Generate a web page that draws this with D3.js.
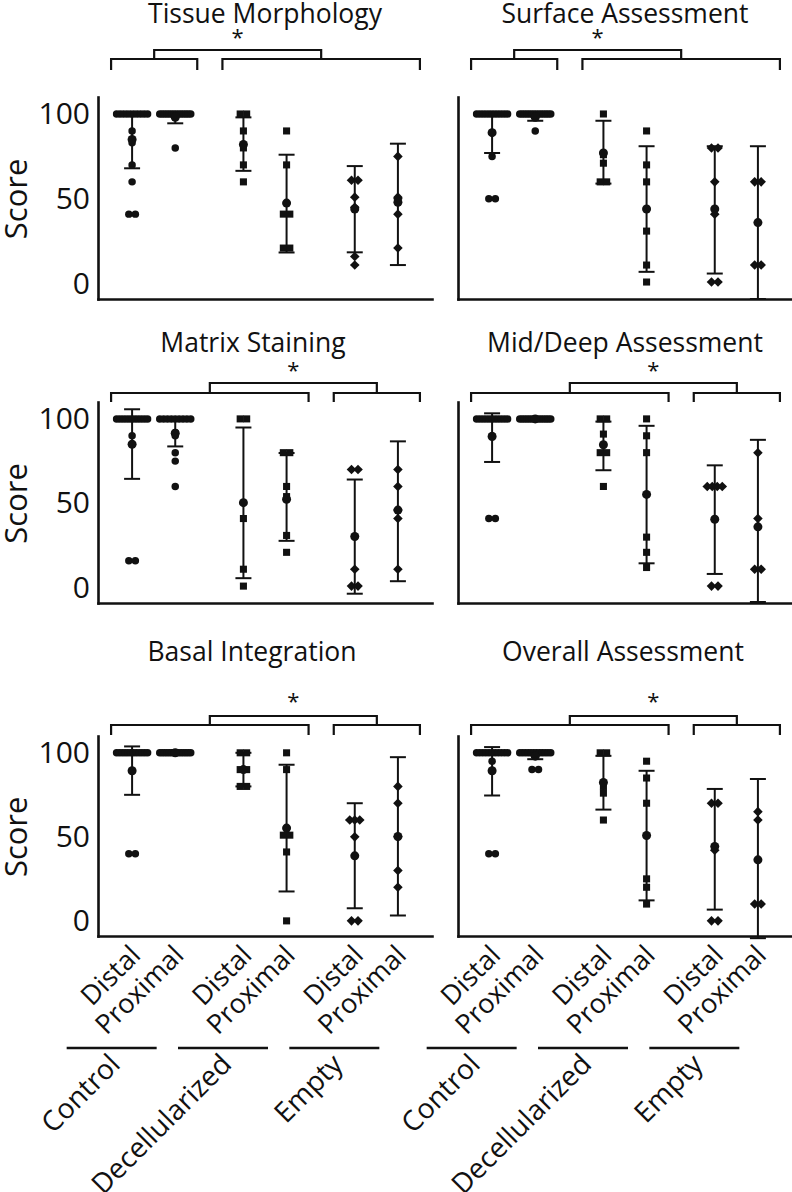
<!DOCTYPE html>
<html lang="en">
<head>
<meta charset="UTF-8">
<title>Histology scores</title>
<style>
  body { margin: 0; background: #fff; }
  svg { display: block; font-family: "Open Sans", sans-serif; }
</style>
</head>
<body>
<div id="chart"></div>
<script src="https://cdn.jsdelivr.net/npm/d3@7"></script>
<script>
const groups = ["Control", "Decellularized", "Empty"];
const sites = ["Distal", "Proximal"];
const yTicks = [0, 50, 100];
const titles = ["Tissue Morphology", "Surface Assessment", "Matrix Staining",
    "Mid/Deep Assessment", "Basal Integration", "Overall Assessment"];

// columns: Control D, Control P, Decell D, Decell P, Empty D, Empty P
const tissuePts = [
    [100, 100, 100, 100, 100, 100, 100, 100, 100, 100, 90, 83, 70, 60, 41, 41],
    [100, 100, 100, 100, 100, 100, 100, 100, 100, 100, 100, 100, 100, 100, 80],
    [100, 100, 90, 80, 70, 60],
    [90, 70, 41, 41, 21, 21],
    [61, 61, 51, 45, 16, 11],
    [75, 51, 50, 41, 21]
];
const tissueMean = [85, 98, 82, 47.5, 44, 48];
const tissueLo = [68, 94.5, 66.5, 18.4, 18.5, 11];
const tissueHi = [101, 100.5, 98, 76, 69.3, 82.5];

const surfacePts = [
    [100, 100, 100, 100, 100, 100, 100, 100, 100, 100, 100, 89, 75, 50, 50],
    [100, 100, 100, 100, 100, 100, 100, 100, 100, 100, 100, 100, 100, 100, 90],
    [100, 76, 71, 60, 60],
    [90, 70, 60, 31, 11, 1],
    [80, 80, 60, 41, 1, 1],
    [60, 60, 11, 11]
];
const surfaceMean = [89, 98, 77, 44, 44, 36];
const surfaceLo = [77, 96, 59, 7, 6, -9];
const surfaceHi = [101, 100, 96, 81, 81, 81];

const matrixPts = [
    [100, 100, 100, 100, 100, 100, 100, 100, 100, 100, 100, 90, 85, 16, 16],
    [100, 100, 100, 100, 100, 100, 100, 100, 100, 92, 90, 80, 75, 60],
    [100, 100, 41, 11, 1],
    [80, 80, 60, 54, 31, 21],
    [70, 70, 11, 1, 1],
    [70, 60, 46, 41, 11]
];
const matrixMean = [85, 91.5, 50.4, 52.4, 30.4, 46];
const matrixLo = [64.5, 83.7, 5.7, 27.8, -3.5, 3.9];
const matrixHi = [105.7, 100, 94.9, 79.8, 64.1, 86.7];

const midDeepPts = [
    [100, 100, 100, 100, 100, 100, 100, 100, 100, 100, 100, 90, 41, 41],
    [100, 100, 100, 100, 100, 100, 100, 100, 100, 100, 100, 100, 100, 100],
    [100, 100, 91, 80, 80, 60],
    [100, 90, 80, 30, 21, 12],
    [60, 60, 60, 60, 1, 1],
    [80, 41, 11, 11]
];
const midDeepMean = [89.6, 100, 84.7, 55.3, 40.6, 36.1];
const midDeepLo = [74.5, 100, 69.6, 14.5, 8.2, -8.4];
const midDeepHi = [103.3, 100, 98.4, 95.9, 72.5, 87.6];

const basalPts = [
    [100, 100, 100, 100, 100, 100, 100, 100, 100, 100, 100, 100, 89, 40, 40],
    [100, 100, 100, 100, 100, 100, 100, 100, 100, 100, 100, 100, 100, 100],
    [100, 100, 90, 90, 80, 80],
    [100, 90, 51, 51, 41, 0],
    [60, 60, 60, 50, 0, 0],
    [80, 70, 50, 30, 20]
];
const basalMean = [89.3, 100, 90, 55.2, 38.7, 50.2];
const basalLo = [75, 100, 80, 17.5, 7.5, 3.2];
const basalHi = [103.8, 100, 100, 92.9, 70, 97.4];

const overallPts = [
    [100, 100, 100, 100, 100, 100, 100, 100, 100, 100, 100, 95, 89, 40, 40],
    [100, 100, 100, 100, 100, 100, 100, 100, 100, 100, 100, 100, 90, 90],
    [100, 100, 80, 76, 60],
    [95, 85, 70, 25, 20, 10],
    [70, 70, 42, 0, 0],
    [65, 60, 10, 10]
];
const overallMean = [89.3, 98, 82.4, 50.8, 44.3, 36.3];
const overallLo = [74.6, 96.2, 66.2, 12.2, 6.7, -10.3];
const overallHi = [103.4, 100, 98.2, 89.3, 78.5, 84.4];

// group index ranges joined by the significance brackets
const brackets = [
    [[0, 0], [1, 2]], [[0, 0], [1, 2]],
    [[0, 1], [2, 2]], [[0, 1], [2, 2]],
    [[0, 1], [2, 2]], [[0, 1], [2, 2]]
];

const panels = [
    {pts: tissuePts, mean: tissueMean, lo: tissueLo, hi: tissueHi},
    {pts: surfacePts, mean: surfaceMean, lo: surfaceLo, hi: surfaceHi},
    {pts: matrixPts, mean: matrixMean, lo: matrixLo, hi: matrixHi},
    {pts: midDeepPts, mean: midDeepMean, lo: midDeepLo, hi: midDeepHi},
    {pts: basalPts, mean: basalMean, lo: basalLo, hi: basalHi},
    {pts: overallPts, mean: overallMean, lo: overallLo, hi: overallHi}
];

// layout
const width = 792, height = 1192;
const colLeft = [98, 458];
const axisW = 334;
const rows = [
    {top: 97, bottom: 299, title: 23, star: 33, conn: 50, br: 59, brEnd: 70},
    {top: 402, bottom: 603, title: 352, star: 366, conn: 383, br: 393, brEnd: 402},
    {top: 736, bottom: 936, title: 661, star: 697, conn: 716, br: 725, brEnd: 735}
];
const titleShift = [0, 0, -12, 0, -13, -2];
const ink = "#111";

let svg = d3.select("#chart")
    .append("svg")
    .attr("width", width)
    .attr("height", height);

const x = d3.scaleBand().domain(groups).range([0, axisW]);
const xs = d3.scalePoint().domain(sites).range([0, x.bandwidth()]).padding(0.79);
const colX = k => x(groups[Math.floor(k / 2)]) + xs(sites[k % 2]);

const shapes = [d3.symbolCircle, d3.symbolSquare, d3.symbolSquare];
const shapeSize = [44, 50, 46];

// spread equal values sideways like a column scatter
function spread(values) {
    let out = [];
    d3.group(values, v => v).forEach((arr, v) => {
        let n = arr.length;
        let s = n === 2 ? 6.5 : n <= 4 ? 5 : Math.min(5, 31 / (n - 1));
        arr.forEach((_, i) => out.push({v: v, dx: (i - (n - 1) / 2) * s}));
    });
    return out;
}

panels.forEach((p, i) => {
    const col = i % 2, row = rows[Math.floor(i / 2)];
    const y = d3.scaleLinear().domain([-9, 110]).range([row.bottom, row.top]);

    let g = svg.append("g").attr("transform", `translate(${colLeft[col]},0)`);

    // title
    g.append("text")
        .attr("x", axisW / 2 + titleShift[i])
        .attr("y", row.title)
        .attr("text-anchor", "middle")
        .style("font-size", "26.5px")
        .style("fill", ink)
        .text(titles[i]);

    // axes
    let yAxis = g.append("g")
        .call(d3.axisLeft(y).tickValues(yTicks).tickSize(0).tickSizeOuter(0).tickPadding(8)
            .tickFormat(col === 0 ? d3.format("d") : () => ""));
    let xAxis = g.append("g")
        .attr("transform", `translate(0,${row.bottom})`)
        .call(d3.axisBottom(x).tickSize(0).tickSizeOuter(0).tickFormat(() => ""));
    [yAxis, xAxis].forEach(a => {
        a.attr("font-family", null).attr("font-size", null);
        a.select(".domain").attr("stroke", ink).attr("stroke-width", 2.6).attr("stroke-linecap", "square");
    });
    yAxis.selectAll(".tick text").style("font-size", "30px").attr("fill", ink);

    if (col === 0) {
        g.append("text")
            .attr("transform", `translate(-71,${y(50)}) rotate(-90)`)
            .attr("text-anchor", "middle")
            .style("font-size", "31px")
            .style("fill", ink)
            .text("Score");
    }

    // significance bracket
    const ends = brackets[i].map(([a, b]) => [colX(a * 2) - 21, colX(b * 2 + 1) + 22]);
    const mids = ends.map(e => (e[0] + e[1]) / 2);
    let bg = g.append("g").attr("fill", "none").attr("stroke", ink).attr("stroke-width", 2.2);
    ends.forEach(e => {
        bg.append("path").attr("d", `M${e[0]},${row.brEnd}V${row.br}H${e[1]}V${row.brEnd}`);
    });
    bg.append("path").attr("d", `M${mids[0]},${row.br}V${row.conn}H${mids[1]}V${row.br}`);
    g.append("text")
        .attr("x", (mids[0] + mids[1]) / 2)
        .attr("y", row.star + 12)
        .attr("text-anchor", "middle")
        .style("font-size", "22px")
        .style("fill", ink)
        .text("*");

    // error bars
    let eb = g.append("g").attr("stroke", ink).attr("stroke-width", 2);
    p.mean.forEach((m, k) => {
        const cx = colX(k);
        eb.append("line").attr("x1", cx).attr("x2", cx).attr("y1", y(p.lo[k])).attr("y2", y(p.hi[k]));
        [p.lo[k], p.hi[k]].forEach(v => {
            eb.append("line").attr("x1", cx - 8).attr("x2", cx + 8).attr("y1", y(v)).attr("y2", y(v));
        });
    });

    // points
    p.pts.forEach((vals, k) => {
        const gi = Math.floor(k / 2);
        const rot = gi === 2 ? 45 : 0;
        g.append("g").selectAll("path")
            .data(spread(vals))
            .join("path")
            .attr("d", d3.symbol(shapes[gi], shapeSize[gi]))
            .attr("transform", d => `translate(${colX(k) + d.dx},${y(d.v)}) rotate(${rot})`)
            .attr("fill", ink);
    });

    // means
    g.append("g").selectAll("circle")
        .data(p.mean)
        .join("circle")
        .attr("cx", (d, k) => colX(k))
        .attr("cy", d => y(d))
        .attr("r", 4.5)
        .attr("fill", ink);
});

// category labels under the bottom row
colLeft.forEach(left => {
    let g = svg.append("g").attr("transform", `translate(${left},0)`);
    d3.range(6).forEach(k => {
        g.append("text")
            .attr("transform", `translate(${colX(k) + 10},957) rotate(-45)`)
            .attr("text-anchor", "end")
            .style("font-size", "27px")
            .style("fill", ink)
            .text(sites[k % 2]);
    });
    groups.forEach(gr => {
        const c = x(gr) + x.bandwidth() / 2 - 42;
        g.append("line")
            .attr("x1", c - 45).attr("x2", c + 45)
            .attr("y1", 1048).attr("y2", 1048)
            .attr("stroke", ink).attr("stroke-width", 2.6);
        g.append("text")
            .attr("transform", `translate(${c + 10},1066) rotate(-45)`)
            .attr("text-anchor", "end")
            .style("font-size", "28px")
            .style("fill", ink)
            .text(gr);
    });
});
</script>
</body>
</html>
